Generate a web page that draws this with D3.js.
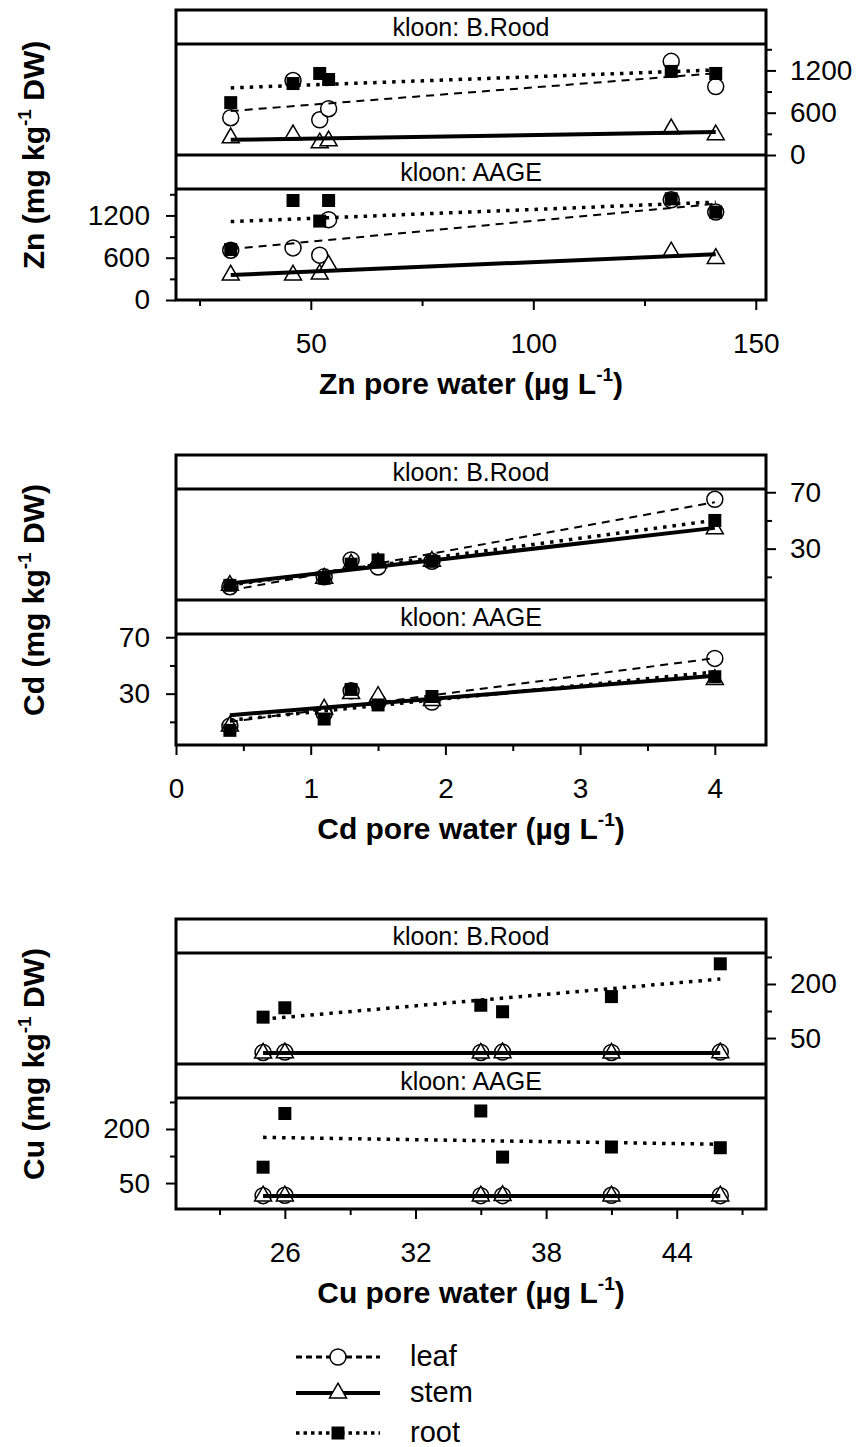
<!DOCTYPE html>
<html>
<head>
<meta charset="utf-8">
<script src="https://cdn.jsdelivr.net/npm/d3@7"></script>
<style>
  body { margin: 0; background: #fff; }
  svg { font-family: "Liberation Sans", Arial, sans-serif; }
</style>
</head>
<body>
<svg id="chart" width="864" height="1447"></svg>
<script>
// ---- data ----
const clones = ["B.Rood", "AAGE"];
const organs = ["leaf", "stem", "root"];

// Zn
const znPore = [32, 46, 52, 54, 131, 141];
const znLeafBRood = [529, 1057, 500, 657, 1329, 971];
const znStemBRood = [243, 286, 171, 200, 371, 286];
const znRootBRood = [743, 1014, 1157, 1071, 1186, 1157];
const znLeafAAGE = [706, 739, 636, 1140, 1422, 1247];
const znStemAAGE = [353, 353, 367, 494, 682, 589];
const znRootAAGE = [716, 1412, 1120, 1412, 1436, 1247];
const znXTicks = [50, 100, 150];
const znXMinor = [25, 75, 125];
const znYTicks = [0, 600, 1200];
const znYMinor = [300, 900, 1500];

// Cd
const cdPore = [0.4, 1.1, 1.3, 1.5, 1.9, 4.0];
const cdLeafBRood = [3, 10, 22, 17, 21, 65];
const cdStemBRood = [4, 9, 19, 20, 21, 44];
const cdRootBRood = [4, 9, 19, 22, 21, 50];
const cdLeafAAGE = [7, 16, 32, 24, 24, 55];
const cdStemAAGE = [7, 19, 30, 28, 25, 40];
const cdRootAAGE = [4, 12, 33, 22, 28, 42];
const cdXTicks = [0, 1, 2, 3, 4];
const cdXMinor = [0.5, 1.5, 2.5, 3.5];
const cdYTicks = [30, 70];
const cdYMinor = [10, 50];

// Cu
const cuPore = [25, 26, 35, 36, 41, 46];
const cuLeafBRood = [10, 11, 10, 11, 10, 11];
const cuStemBRood = [8, 9, 8, 9, 8, 9];
const cuRootBRood = [108, 134, 141, 123, 165, 256];
const cuLeafAAGE = [15, 16, 15, 15, 16, 15];
const cuStemAAGE = [14, 14, 14, 15, 14, 14];
const cuRootAAGE = [94, 243, 250, 122, 150, 148];
const cuXTicks = [26, 32, 38, 44];
const cuXMinor = [23, 29, 35, 41, 47];
const cuYTicks = [50, 200];
const cuYMinor = [125, 275];

// ---- layout ----
const svg = d3.select('#chart');
const left = 176, right = 766;
const stripH = 34, panelH = 111;
const fmt = d3.format('d');

const metals = [
  { el: 'Zn', top: 10, x: znPore, xDomain: [19.7, 152.3], yDomain: [0, 1575],
    xTicks: znXTicks, xMinor: znXMinor, yTicks: znYTicks, yMinor: znYMinor,
    data: { 'B.Rood': { leaf: znLeafBRood, stem: znStemBRood, root: znRootBRood },
            'AAGE': { leaf: znLeafAAGE, stem: znStemAAGE, root: znRootAAGE } } },
  { el: 'Cd', top: 455, x: cdPore, xDomain: [0, 4.38], yDomain: [-6.4, 72.3],
    xTicks: cdXTicks, xMinor: cdXMinor, yTicks: cdYTicks, yMinor: cdYMinor,
    data: { 'B.Rood': { leaf: cdLeafBRood, stem: cdStemBRood, root: cdRootBRood },
            'AAGE': { leaf: cdLeafAAGE, stem: cdStemAAGE, root: cdRootAAGE } } },
  { el: 'Cu', top: 919, x: cuPore, xDomain: [21, 48.1], yDomain: [-22, 286],
    xTicks: cuXTicks, xMinor: cuXMinor, yTicks: cuYTicks, yMinor: cuYMinor,
    data: { 'B.Rood': { leaf: cuLeafBRood, stem: cuStemBRood, root: cuRootBRood },
            'AAGE': { leaf: cuLeafAAGE, stem: cuStemAAGE, root: cuRootAAGE } } }
];

const lineStyle = {
  leaf: { w: 2, dash: '8,6' },
  stem: { w: 4, dash: null },
  root: { w: 3.5, dash: '3.5,6' }
};

function marker(sel, organ, cx, cy) {
  if (organ === 'leaf') {
    sel.append('circle').attr('cx', cx).attr('cy', cy).attr('r', 8)
      .attr('fill', '#fff').attr('stroke', '#000').attr('stroke-width', 1.5);
  } else if (organ === 'stem') {
    sel.append('path').attr('d', d3.symbol(d3.symbolTriangle, 125)())
      .attr('transform', `translate(${cx},${cy})`)
      .attr('fill', '#fff').attr('stroke', '#000').attr('stroke-width', 1.5);
  } else {
    sel.append('path').attr('d', d3.symbol(d3.symbolSquare, 169)())
      .attr('transform', `translate(${cx},${cy})`).attr('fill', '#000');
  }
}

// least-squares line through one series
function fit(xs, ys) {
  const mx = d3.mean(xs), my = d3.mean(ys);
  const b = d3.sum(xs, (v, i) => (v - mx) * (ys[i] - my)) / d3.sum(xs, v => (v - mx) ** 2);
  return v => my + b * (v - mx);
}

function styleAxis(g, size) {
  g.select('.domain').remove();
  g.selectAll('line').attr('stroke', '#000').attr('stroke-width', 2);
  g.selectAll('text').attr('fill', '#000').attr('font-size', size)
    .attr('font-family', '"Liberation Sans", Arial, sans-serif');
}

metals.forEach(m => {
  const g = svg.append('g');
  const x = d3.scaleLinear().domain(m.xDomain).range([left, right]);
  const bottom = m.top + 2 * (stripH + panelH);

  clones.forEach((clone, p) => {
    const stripTop = m.top + p * (stripH + panelH);
    const pTop = stripTop + stripH, pBot = pTop + panelH;
    const y = d3.scaleLinear().domain(m.yDomain).range([pBot, pTop]);
    const d = m.data[clone];

    g.append('text').attr('x', (left + right) / 2).attr('y', stripTop + stripH / 2)
      .attr('dy', '0.36em').attr('text-anchor', 'middle').attr('font-size', 25)
      .text('kloon: ' + clone);

    organs.forEach(o => {
      const mg = g.append('g');
      m.x.forEach((xv, i) => marker(mg, o, x(xv), y(d[o][i])));
    });

    organs.forEach(o => {
      const f = fit(m.x, d[o]);
      const ends = d3.extent(m.x);
      g.append('path')
        .attr('d', d3.line().x(v => x(v)).y(v => y(f(v)))(ends))
        .attr('fill', 'none').attr('stroke', '#000')
        .attr('stroke-width', lineStyle[o].w)
        .attr('stroke-dasharray', lineStyle[o].dash);
    });

    const mk = p === 0 ? d3.axisRight : d3.axisLeft;
    const ax = p === 0 ? right : left;
    g.append('g').attr('transform', `translate(${ax},0)`)
      .call(mk(y).tickValues(m.yTicks).tickSize(10).tickPadding(p === 0 ? 14 : 16).tickFormat(fmt))
      .call(s => styleAxis(s, 28));
    g.append('g').attr('transform', `translate(${ax},0)`)
      .call(mk(y).tickValues(m.yMinor).tickSize(6).tickFormat(''))
      .call(s => styleAxis(s, 28));
  });

  // frame and strip borders
  g.append('rect').attr('x', left).attr('y', m.top).attr('width', right - left)
    .attr('height', bottom - m.top).attr('fill', 'none').attr('stroke', '#000').attr('stroke-width', 3);
  [m.top + stripH, m.top + stripH + panelH, m.top + 2 * stripH + panelH].forEach(yy => {
    g.append('line').attr('x1', left).attr('x2', right).attr('y1', yy).attr('y2', yy)
      .attr('stroke', '#000').attr('stroke-width', 3);
  });

  // x axis
  g.append('g').attr('transform', `translate(0,${bottom})`)
    .call(d3.axisBottom(x).tickValues(m.xTicks).tickSize(10).tickPadding(23).tickFormat(fmt))
    .call(s => styleAxis(s, 28));
  g.append('g').attr('transform', `translate(0,${bottom})`)
    .call(d3.axisBottom(x).tickValues(m.xMinor).tickSize(6).tickFormat(''))
    .call(s => styleAxis(s, 28));

  // x title
  const xt = g.append('text').attr('x', (left + right) / 2).attr('y', bottom + 94)
    .attr('text-anchor', 'middle').attr('font-size', 30).attr('font-weight', 'bold');
  xt.append('tspan').text(m.el + ' pore water (\u00b5g L');
  xt.append('tspan').attr('font-size', 19).attr('dy', -13).text('-1');
  xt.append('tspan').attr('dy', 13).text(')');

  // y title
  const yt = g.append('text')
    .attr('transform', `translate(44,${(m.top + bottom) / 2}) rotate(-90)`)
    .attr('text-anchor', 'middle').attr('font-size', 30).attr('font-weight', 'bold');
  yt.append('tspan').text(m.el + ' (mg kg');
  yt.append('tspan').attr('font-size', 19).attr('dy', -13).text('-1');
  yt.append('tspan').attr('dy', 13).text(' DW)');
});

// ---- legend ----
const legendY = [1357, 1393, 1433];
const lg = svg.append('g');
organs.forEach((o, i) => {
  const yy = legendY[i];
  lg.append('line').attr('x1', 296).attr('x2', 380).attr('y1', yy).attr('y2', yy)
    .attr('stroke', '#000').attr('stroke-width', o === 'leaf' ? 3 : lineStyle[o].w)
    .attr('stroke-dasharray', o === 'leaf' ? '6,4' : (o === 'root' ? '3.5,4' : null));
  marker(lg, o, 338, yy);
  lg.append('text').attr('x', 410).attr('y', yy).attr('dy', '0.32em')
    .attr('font-size', 29).text(o);
});
</script>
</body>
</html>
